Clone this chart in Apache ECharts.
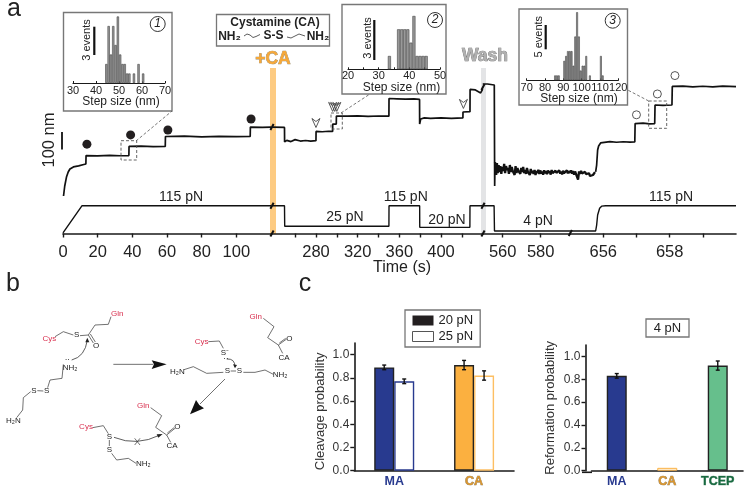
<!DOCTYPE html>
<html>
<head>
<meta charset="utf-8">
<style>html,body{margin:0;padding:0;background:#fff}#main{width:750px;height:488px}</style>
<script src="https://cdn.jsdelivr.net/npm/echarts@6/dist/echarts.min.js"></script>
</head>
<body>
<div id="main"></div>
<script>
// force clamp trace, split in four time windows because the axis is broken
var traceA = [[0.3,0],[1,57],[2,108],[3,137],[4,154],[6,166],[9,172],[12,180],[13.2,183],[13.3,231],[20,229],[27,232],[33,230],[38,231],[38.1,283],[45,285],[52,282],[59,283],[59.1,340],[70,342],[80,338],[90,341],[100,339],[108,340],[108.1,394],[115,392],[120,394]];
var traceB = [[238,394],[249.8,392],[249.9,309],[250.5,300],[252,318],[256,311],[260,322],[265,314],[270,317],[275,314],[280,316],[280.1,369],[286,367],[292,370],[296,369],[296.1,411],[299.5,411],[299.6,457],[310,456],[320,458],[330,455],[340,457],[350,456],[350.1,557],[358,555],[366,553],[374,555],[379.4,552],[379.5,411],[380.5,440],[384,446],[390,443],[400,446],[410,444],[421,446],[421.1,480],[427.8,482],[427.9,609],[433,606],[438,589],[440,611]];
var traceC = [[549.5,640],[552,640],[555.6,634],[555.8,57],[556,194]];
var noiseC = [[556,194],[556.2,194],[556.6,120],[557,188],[557.4,131],[557.9,177],[558.3,137],[558.8,171],[559.3,126],[559.8,166],[560.3,143],[560.8,183],[561.3,131],[561.8,171],[562.3,148],[562.8,160],[563.3,126],[563.8,177],[564.3,137],[564.8,166],[565.3,143],[565.8,154],[566.3,120],[566.8,171],[567.3,131],[567.8,160],[568.3,143],[568.8,154],[569.3,126],[569.8,160],[570.3,137],[570.8,166],[571.3,131],[571.8,148],[572.3,126],[572.8,160],[573.3,137],[573.8,148],[574.3,120],[574.8,154],[575.3,131],[575.8,143],[576.3,126],[576.8,148],[577.3,120],[577.8,143],[578.3,131],[578.8,150],[579.3,126],[579.8,146],[580.3,128],[580.8,140],[581.3,122],[581.8,147],[582.3,130],[582.8,142],[583.3,125],[583.8,146],[584.3,131],[584.8,143],[585.3,122],[585.8,148],[586.3,130],[586.8,141],[587.3,126],[587.8,145],[588.3,132],[588.8,142],[589.3,124],[589.8,146],[590.3,128],[590.8,140],[591.3,123],[591.8,144],[592.3,130],[592.8,141],[593.3,126],[593.8,147],[594.3,129],[594.8,142],[595.5,130]];
var noiseD = [[655,130],[655.03,146],[655.06,128],[655.09,142],[655.12,122],[655.15,140],[655.18,131],[655.21,148],[655.24,94],[655.27,140],[655.3,126],[655.33,143],[655.36,129],[655.39,137],[655.42,120],[655.45,138],[655.48,125],[655.51,134],[655.54,117],[655.57,130],[655.6,114],[655.63,125],[655.66,108],[655.69,120],[655.72,129],[655.75,137],[655.77,138]];
var traceD = [[655.77,138],[655.8,177],[655.83,263],[655.86,286],[655.92,303],[655.98,309],[656.2,311],[656.4,307],[656.6,310],[656.8,308],[656.95,309],[656.96,414],[657.2,416],[657.4,412],[657.55,414],[657.56,520],[657.8,518],[658.07,520],[658.08,626],[658.4,628],[658.7,624],[659,627],[659.3,624],[659.6,628],[660,625]];

var forceA = [[0,-4],[11,115],[120,115]];
var forceB = [[238,115],[249.8,115],[250,25],[350,25],[350.1,115],[379.5,115],[379.6,20],[427.7,20],[427.8,115],[440,115]];
var forceC = [[549.5,115],[555.5,115],[555.7,4],[595.5,4]];
var forceD = [[655,4],[655.77,4],[655.8,30],[655.83,74],[655.89,104],[655.95,113],[656.07,115],[660,115]];

// event markers, [time, nm]
var stepsFilled = [[13.8,296],[39,349],[60.5,377],[108.5,440]];
var stepsOpen = [[657,464],[657.63,583],[658.16,688]];
var stepsArrow = [[280,417],[296,509],[298,509],[300,509],[421.5,526]];

var ticksA = [0,20,40,60,80,100];
var ticksB = [260,280,300,320,340,360,380,400,420];
var labelsB = [280,320,360,400];
var ticksC = [560,580];
var ticksD = [656,657,658,659];
var labelsD = [656,658];

// step size histograms, [bin centre nm, events]
var hist1 = [[44.5,2],[45.5,6],[46.5,3],[47.5,6],[48.5,4],[49.5,7],[50.5,3],[51.5,2],[52.5,2],[53.5,1],[54.5,1],[56.5,1],[58.5,2],[60.5,1]];
var hist2 = [[33.5,1],[36.5,3],[37.5,3],[38.5,3],[39.5,3],[40.5,2],[41.5,4],[42.5,1],[43.5,1],[44.5,1],[45.5,1]];
var hist3 = [[85.5,1],[86.5,1],[87.5,1],[90.5,4],[91.5,5],[92.5,6],[93.5,6],[94.5,6],[95.5,3],[96.5,9],[97.5,14],[98.5,9],[99.5,2],[100.5,3],[101.5,3],[102.5,5],[104.5,1],[110.5,5],[111.5,1]];

var cleavageCats = ["MA","CA"];
var cleavage20 = [0.89,0.91];
var cleavage25 = [0.77,0.82];
var cleavageErr20 = [0.02,0.04];
var cleavageErr25 = [0.02,0.04];
var reformCats = ["MA","CA","TCEP"];
var reformValues = [0.83,0.025,0.92];
var reformErr = [0.02,0,0.04];

var FONT = "Liberation Sans";
var INK = "#1a1a1a";
var RED = "#d9304f";
var BLUE = "#283a8f";
var ORANGE = "#fbb040";
var GREEN = "#66bf8c";

var chart = echarts.init(document.getElementById("main"));

var grids = [];
var xAxes = [];
var yAxes = [];
var series = [];

function addMainWindow(left, width, min, max, ticks, labels, trace, noise, force, extra) {
  var g = grids.length;
  grids.push({ left: left, width: width, top: 60, height: 173.5 });
  xAxes.push({
    type: "value", gridIndex: g, min: min, max: max, position: "bottom",
    splitLine: { show: false },
    axisLine: { onZero: false, lineStyle: { color: INK, width: 1.6 } },
    axisTick: { length: 4, lineStyle: { color: INK, width: 1.4 }, customValues: ticks },
    axisLabel: { fontFamily: FONT, fontSize: 16.5, color: "#222", margin: 10, customValues: labels, hideOverlap: false }
  });
  var xi = xAxes.length - 1;
  var yTrace = yAxes.length;
  yAxes.push({ type: "value", gridIndex: g, show: false, min: -214.3, max: 777 });
  var yForce = yAxes.length;
  yAxes.push({ type: "value", gridIndex: g, show: false, min: -7, max: 754 });
  series.push({ type: "line", xAxisIndex: xi, yAxisIndex: yTrace, data: trace, showSymbol: false, lineStyle: { color: "#111", width: 1.7 }, silent: true });
  if (noise) {
    series.push({ type: "line", xAxisIndex: xi, yAxisIndex: yTrace, data: noise, showSymbol: false, lineStyle: { color: "#111", width: 2.3 }, silent: true });
  }
  series.push({ type: "line", xAxisIndex: xi, yAxisIndex: yForce, data: force, showSymbol: false, lineStyle: { color: "#111", width: 1.4 }, silent: true });
  (extra || []).forEach(function (e) {
    series.push({ type: "scatter", xAxisIndex: xi, yAxisIndex: yTrace, data: e.data, symbol: e.symbol, symbolSize: e.size, itemStyle: e.style, z: 4, silent: true });
  });
}

var filledDot = { data: stepsFilled, symbol: "circle", size: 9, style: { color: "#231f20", opacity: 1 } };
var openDot = { data: stepsOpen, symbol: "circle", size: 8, style: { color: "#fff", borderColor: "#555", borderWidth: 1, opacity: 1 } };
var openArrow = { data: stepsArrow, symbol: "path://M0 0 L5 4 L10 0 L5 12 Z", size: [8, 9], style: { color: "rgba(255,255,255,0)", borderColor: "#444", borderWidth: 0.9, opacity: 1 } };

addMainWindow(63, 208, 0, 120, ticksA, ticksA, traceA, null, forceA, [filledDot]);
addMainWindow(272.2, 210.5, 238, 440, ticksB, labelsB, traceB, null, forceB, [openArrow]);
addMainWindow(482.7, 87.4, 549.5, 595.5, ticksC, ticksC, traceC, noiseC, forceC);
addMainWindow(570.1, 165.9, 655, 660, ticksD, labelsD, traceD, noiseD, forceD, [openDot]);

function addHistogram(left, width, bottomY, height, min, max, yMax, ticks, labels, data, barW, margin) {
  var g = grids.length;
  grids.push({ left: left, width: width, top: bottomY - height, height: height });
  xAxes.push({
    type: "value", gridIndex: g, min: min, max: max,
    splitLine: { show: false },
    axisLine: { lineStyle: { color: INK, width: 1.2 } },
    axisTick: { length: 2, inside: true, lineStyle: { color: INK }, customValues: ticks },
    axisLabel: { fontFamily: FONT, fontSize: 11, color: "#222", margin: margin, customValues: labels, hideOverlap: false }
  });
  yAxes.push({ type: "value", gridIndex: g, show: false, min: 0, max: yMax });
  series.push({
    type: "bar", xAxisIndex: xAxes.length - 1, yAxisIndex: yAxes.length - 1,
    data: data, barWidth: barW, silent: true,
    itemStyle: { color: "#999", borderColor: "#444", borderWidth: 0.6 }
  });
}

addHistogram(73, 92, 83, 72, 30, 70, 7.58, [30,40,50,60,70], [30,40,50,60,70], hist1, 2.3, 2);
addHistogram(348, 92, 69.3, 60, 20, 50, 4.5, [20,25,30,35,40,45,50], [20,30,40,50], hist2, 3.07, 1);
addHistogram(526.7, 91.6, 80.3, 72, 70, 120, 14.8, [70,80,90,100,110,120], [70,80,90,100,110,120], hist3, 1.83, 2);

// panel c
function probAxes(left, width, top, height, cats, rich) {
  var g = grids.length;
  grids.push({ left: left, width: width, top: top, height: height });
  xAxes.push({
    type: "category", gridIndex: g, data: cats,
    axisTick: { show: false },
    axisLine: { lineStyle: { color: INK, width: 1.6 } },
    axisLabel: {
      margin: 4, fontFamily: FONT, interval: 0,
      formatter: function (v) { return "{" + v + "|" + v + "}"; },
      rich: rich
    }
  });
  return g;
}

var labelRich = {
  MA: { fontFamily: FONT, fontSize: 12.5, fontWeight: "bold", color: BLUE },
  CA: { fontFamily: FONT, fontSize: 12.5, fontWeight: "bold", color: "#d9952e", textBorderColor: "#8a7a5a", textBorderWidth: 0.6 },
  TCEP: { fontFamily: FONT, fontSize: 12.5, fontWeight: "bold", color: "#17693f", textBorderColor: "#6f9f87", textBorderWidth: 0.6 }
};

function probY(g, name, nameGap, offset, pad) {
  yAxes.push({
    type: "value", gridIndex: g, min: 0, max: 1.1, interval: 0.2, offset: offset,
    name: name, nameLocation: "middle", nameGap: nameGap,
    nameTextStyle: { fontFamily: FONT, fontSize: 13, color: "#333", padding: pad },
    splitLine: { show: false },
    axisLine: { show: true, lineStyle: { color: INK, width: 1.6 } },
    axisTick: { show: true, length: 4, lineStyle: { color: INK, width: 1.4 } },
    axisLabel: { fontFamily: FONT, fontSize: 12, color: "#333", margin: 5, showMaxLabel: false, formatter: function (v) { return v.toFixed(1); } }
  });
}

function errorSeries(xi, yi, values, errs, shift) {
  var data = [];
  values.forEach(function (v, i) {
    if (errs[i] > 0) data.push([i, v - errs[i], v + errs[i]]);
  });
  return {
    type: "custom", xAxisIndex: xi, yAxisIndex: yi, data: data, z: 5, silent: true,
    renderItem: function (params, api) {
      var lo = api.coord([api.value(0), api.value(1)]);
      var hi = api.coord([api.value(0), api.value(2)]);
      var x = lo[0] + shift;
      var st = { stroke: "#111", lineWidth: 1.4, fill: null };
      return {
        type: "group",
        children: [
          { type: "line", shape: { x1: x, y1: lo[1], x2: x, y2: hi[1] }, style: st },
          { type: "line", shape: { x1: x - 2, y1: lo[1], x2: x + 2, y2: lo[1] }, style: st },
          { type: "line", shape: { x1: x - 2, y1: hi[1], x2: x + 2, y2: hi[1] }, style: st }
        ]
      };
    }
  };
}

var gLeft = probAxes(354.3, 159.7, 343, 128.7, cleavageCats, labelRich);
probY(gLeft, "Cleavage probability", 27, 0, [0, 9, 0, 0]);
var xl = xAxes.length - 1, yl = yAxes.length - 1;
series.push({
  name: "20 pN", type: "bar", xAxisIndex: xl, yAxisIndex: yl, barWidth: 20, barGap: 0,
  data: cleavage20.map(function (v, i) { return { value: v, itemStyle: { color: [BLUE, ORANGE][i], borderColor: "#222", borderWidth: 1.4 } }; }),
  silent: true
});
series.push({
  name: "25 pN", type: "bar", xAxisIndex: xl, yAxisIndex: yl, barWidth: 20, barGap: 0,
  data: cleavage25.map(function (v, i) { return { value: v, itemStyle: { color: "#fff", borderColor: [BLUE, "#fdbf63"][i], borderWidth: 1.4 } }; }),
  silent: true
});
series.push(errorSeries(xl, yl, cleavage20, cleavageErr20, -10));
series.push(errorSeries(xl, yl, cleavage25, cleavageErr25, 10));

var gRight = probAxes(591.5, 151.5, 345, 127.3, reformCats, labelRich);
probY(gRight, "Reformation probability", 29, 6, null);
var xr = xAxes.length - 1, yr = yAxes.length - 1;
series.push({
  type: "bar", xAxisIndex: xr, yAxisIndex: yr, barWidth: 20,
  data: reformValues.map(function (v, i) {
    return { value: v, itemStyle: i === 1 ? { color: "#fff", borderColor: ORANGE, borderWidth: 1 } : { color: [BLUE, "", GREEN][i], borderColor: "#222", borderWidth: 1.4 } };
  }),
  silent: true
});
series.push(errorSeries(xr, yr, reformValues, reformErr, 0));

// annotations and the reaction scheme
var gfx = [];
function label(x, y, s, size, opts) {
  var st = Object.assign({ x: x, y: y, text: s, fontFamily: FONT, fontSize: size, fill: "#222", align: "center", verticalAlign: "middle" }, (opts && opts.style) || {});
  gfx.push({ type: "text", x: 0, y: 0, style: st, z: 20 });
}
function vlabel(x, y, s, size) {
  gfx.push({ type: "text", x: x, y: y, rotation: Math.PI / 2, style: { x: 0, y: 0, text: s, fontFamily: FONT, fontSize: size, fill: "#222", align: "center", verticalAlign: "middle" }, z: 20 });
}
function poly(points, color, width, dash) {
  gfx.push({ type: "polyline", shape: { points: points }, style: { stroke: color || "#333", lineWidth: width || 0.8, fill: null, lineDash: dash || null }, z: 15 });
}
function tri(points, color) {
  gfx.push({ type: "polygon", shape: { points: points }, style: { fill: color || "#111" }, z: 15 });
}
function box(x, y, w, h, stroke, lw, fill, z, dash) {
  gfx.push({ type: "rect", shape: { x: x, y: y, width: w, height: h }, style: { stroke: stroke, lineWidth: lw, fill: fill || null, lineDash: dash || null }, z: z == null ? 1 : z });
}

label(14, 9, "a", 25);
label(13, 284, "b", 25);
label(305, 284, "c", 25);

// highlight bands sit behind the traces
box(270, 68, 6, 166, null, 0, "#fdcb82", -1);
box(481, 68, 5, 166, null, 0, "#e3e4e6", -1);
label(273, 59, "+CA", 17.5, { style: { fontWeight: "bold", fill: "#f5a83a", stroke: "#9a8a6a", lineWidth: 0.7 } });
label(485, 56, "Wash", 17.5, { style: { fontWeight: "bold", fill: "#b0b0b0", stroke: "#666", lineWidth: 0.7 } });

// cystamine box
box(216.5, 14.5, 113, 31.5, "#777", 1.3, "#fff");
label(275, 23, "Cystamine (CA)", 12, { style: { fontWeight: "bold" } });
label(229.5, 36.5, "NH₂", 12, { style: { fontWeight: "bold" } });
label(273.5, 35.5, "S-S", 12, { style: { fontWeight: "bold" } });
label(318, 36.5, "NH₂", 12, { style: { fontWeight: "bold" } });
poly([[244,36],[247,34],[250,35],[253,37.5],[256,36.5],[260,34.5]], "#333", 0.8);
poly([[287,37],[291,38],[295,36],[299,34],[302,35],[305,36]], "#333", 0.8);

// inset frames
box(63.5, 12.5, 108.5, 98.5, "#777", 1.4, "#fff", 0);
box(342, 4.5, 104, 89.5, "#777", 1.4, "#fff", 0);
box(519, 9, 108.5, 96, "#777", 1.4, "#fff", 0);
label(121, 101.5, "Step size (nm)", 12);
label(401.5, 87.3, "Step size (nm)", 12);
label(579, 98.3, "Step size (nm)", 12);
vlabel(86.7, 40, "3 events", 11);
vlabel(368.3, 38, "3 events", 11);
vlabel(539.3, 36.7, "5 events", 11);
poly([[94.3,26.7],[94.3,55]], "#111", 2.2);
poly([[374.3,20],[374.3,60]], "#111", 2.2);
poly([[545.7,25],[545.7,49.3]], "#111", 2.2);
[[157.7,24,"1"],[435,20,"2"],[612.7,20.7,"3"]].forEach(function (c) {
  gfx.push({ type: "circle", shape: { cx: c[0], cy: c[1], r: 7.5 }, style: { fill: "#fff", stroke: "#333", lineWidth: 1 }, z: 16 });
  label(c[0], c[1], c[2], 12, { style: { fontStyle: "italic" } });
});

// zoom boxes and leaders
box(121, 140.7, 15.7, 19.3, "#555", 0.9, null, 5, [3, 2]);
box(331, 113, 11.3, 16, "#555", 0.9, null, 5, [3, 2]);
box(648.7, 101, 18, 27.3, "#555", 0.9, null, 5, [3, 2]);
poly([[136,141],[172,111]], "#555", 0.8, [3, 2]);
poly([[341,113],[370,94]], "#555", 0.8, [3, 2]);
poly([[648.7,101],[627.7,90]], "#555", 0.8, [3, 2]);

// axis break slashes
[[272,127],[272,205.7],[272,233.5],[483,87],[483,205.7],[483,233.5],[570.3,233]].forEach(function (b) {
  poly([[b[0] - 1.6, b[1] + 3],[b[0] + 1.6, b[1] - 3]], "#111", 2);
});

// main axis texts
gfx.push({ type: "text", x: 49, y: 140, rotation: Math.PI / 2, style: { x: 0, y: 0, text: "100 nm", fontFamily: FONT, fontSize: 16.5, fill: "#222", align: "center", verticalAlign: "middle" }, z: 20 });
poly([[62,132],[62,149.5]], "#111", 1.8);
label(402, 268, "Time (s)", 16);
label(181, 197.5, "115 pN", 14);
label(345, 217, "25 pN", 14);
label(405.7, 197, "115 pN", 14);
label(447, 220, "20 pN", 14);
label(538, 221.5, "4 pN", 14);
label(671, 197, "115 pN", 14);

// right bar chart x axis runs past the offset y axis
poly([[582,472.3],[592,472.3]], INK, 1.6);

// 4 pN box
box(646, 319, 43, 18, "#777", 1.3, "#fff");
label(667.5, 328, "4 pN", 13);

// scheme coordinates below are in the zoomed sketch grid
function sx(p) { return [p[0] / 3, 265 + p[1] / 3]; }
function bond(pts) { poly(pts.map(sx), "#333", 0.7); }
function atom(px, py, s, red) { var q = sx([px, py]); label(q[0], q[1], s, 8, { style: { fill: red ? RED : "#222" } }); }
function curve(a, c, b, head) {
  var p = sx(a), q = sx(b), m = sx(c);
  gfx.push({ type: "bezierCurve", shape: { x1: p[0], y1: p[1], x2: q[0], y2: q[1], cpx1: m[0], cpy1: m[1] }, style: { stroke: "#333", lineWidth: 0.8, fill: null }, z: 15 });
  if (head) tri(head.map(sx), "#222");
}

// first molecule
atom(352,146,"Gln",true); atom(148,220,"Cys",true); atom(230,210,"S"); atom(288,243,"O");
atom(210,307,"NH₂"); atom(140,378,"S"); atom(102,376,"S"); atom(40,468,"H₂N");
bond([[333,155],[325,178],[285,180],[265,210],[240,212]]);
bond([[165,215],[190,200],[220,210]]);
bond([[265,210],[280,234]]); bond([[271,207],[286,231]]);
bond([[190,298],[186,340],[150,345],[143,368]]);
bond([[130,378],[112,377]]);
bond([[92,380],[70,398],[68,435],[50,458]]);
curve([215,285],[255,275],[262,225],[[262,218],[256,232],[268,232]]);
atom(202,285,"··");

// reaction arrows
bond([[340,298],[460,298]]);
tri([[500,298],[455,286],[462,298],[455,312]].map(sx), "#111");
bond([[675,342],[600,417]]);
tri([[570,448],[588,405],[598,420],[612,430]].map(sx), "#111");

// second molecule
atom(605,229,"Cys",true); atom(675,262,"S⁻"); atom(532,321,"H₂N"); atom(682,318,"S"); atom(718,318,"S"); atom(840,330,"NH₂");
atom(767,154,"Gln",true); atom(868,220,"O"); atom(852,277,"CA");
bond([[625,230],[658,228],[670,250]]);
bond([[552,314],[580,305],[620,325],[670,322]]);
bond([[692,318],[708,318]]);
bond([[730,322],[765,322],[795,315],[820,328]]);
bond([[790,160],[822,185],[803,218],[835,240]]);
bond([[835,240],[860,222]]); bond([[838,234],[857,220]]);
bond([[835,240],[848,265]]);
curve([680,282],[705,280],[705,306],[[705,310],[699,298],[711,300]]);
atom(678,281,"··");

// third molecule
atom(430,421,"Gln",true); atom(532,486,"O"); atom(516,541,"CA"); atom(258,484,"Cys",true);
atom(328,515,"S"); atom(328,553,"S"); atom(430,597,"NH₂");
bond([[452,428],[485,452],[467,487],[500,510]]);
bond([[500,510],[525,490]]); bond([[502,504],[522,488]]);
bond([[500,510],[512,532]]);
bond([[278,488],[310,482],[325,506]]);
bond([[328,525],[328,543]]);
bond([[335,565],[350,585],[385,580],[408,595]]);
curve([342,517],[410,545],[480,510],[[488,507],[470,508],[475,518]]);
bond([[404,520],[420,540]]); bond([[420,520],[404,540]]);

chart.setOption({
  animation: false,
  backgroundColor: "#fff",
  textStyle: { fontFamily: FONT },
  grid: grids,
  xAxis: xAxes,
  yAxis: yAxes,
  series: series,
  legend: {
    left: 405, top: 310, orient: "vertical", itemWidth: 21, itemHeight: 10, itemGap: 3, padding: [4, 7, 4, 7],
    borderColor: "#777", borderWidth: 1.3, selectedMode: false,
    textStyle: { fontFamily: FONT, fontSize: 13, color: "#222" },
    data: [
      { name: "20 pN", icon: "rect", itemStyle: { color: "#231f20" } },
      { name: "25 pN", icon: "rect", itemStyle: { color: "#fff", borderColor: "#555", borderWidth: 1 } }
    ]
  },
  graphic: { elements: gfx }
});
</script>
</body>
</html>
